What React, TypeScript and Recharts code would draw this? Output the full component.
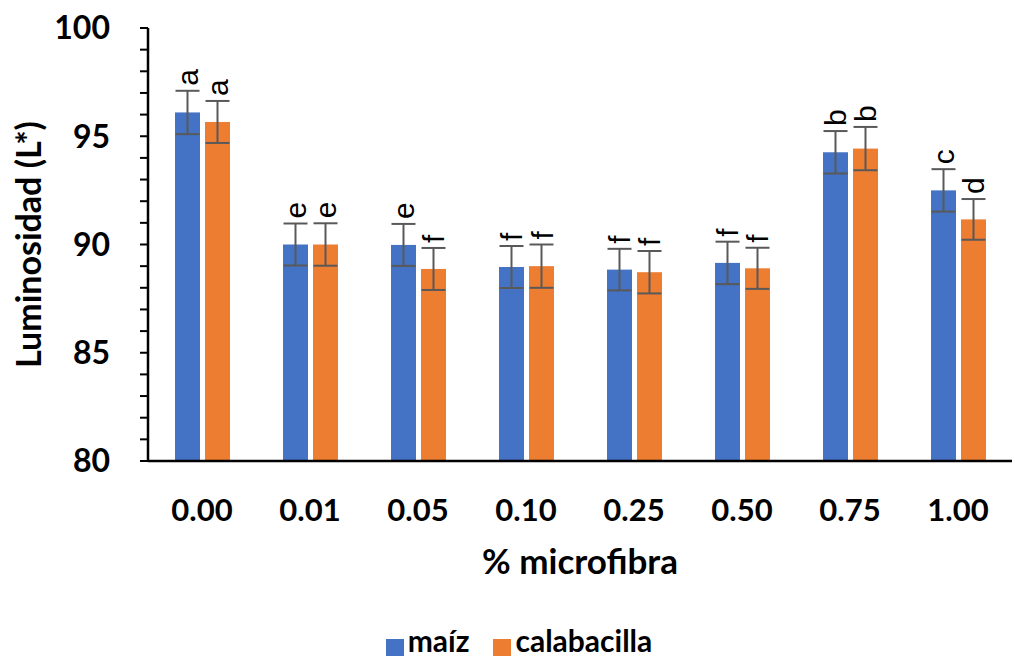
import {
  Bar,
  BarChart,
  ErrorBar,
  Legend,
  XAxis,
  YAxis,
} from "recharts";

const categories = ["0.00", "0.01", "0.05", "0.10", "0.25", "0.50", "0.75", "1.00"];
const maiz = [96.1, 90.0, 89.98, 88.96, 88.84, 89.15, 94.26, 92.5];
const calabacilla = [95.66, 90.0, 88.87, 89.0, 88.72, 88.9, 94.43, 91.16];
const maizErr = [1.0, 0.97, 0.97, 0.97, 0.96, 0.98, 0.98, 0.98];
const calabacillaErr = [0.97, 0.98, 0.97, 1.0, 0.98, 0.95, 1.0, 0.94];
const maizLetters = ["a", "e", "e", "f", "f", "f", "b", "c"];
const calabacillaLetters = ["a", "e", "f", "f", "f", "f", "b", "d"];
const yTicks = [80, 81, 82, 83, 84, 85, 86, 87, 88, 89, 90, 91, 92, 93, 94, 95, 96, 97, 98, 99, 100];
const edgeTicks = [1, 2, 3, 4, 5, 6, 7];
const seriesOrder = ["maiz", "calabacilla"];

const data = categories.map((c, i) => ({
  name: c,
  maiz: maiz[i],
  calabacilla: calabacilla[i],
  maizErr: maizErr[i],
  calabacillaErr: calabacillaErr[i],
}));

const FONT = "Lato, 'Open Sans', sans-serif";
const BLUE = "#4472C4";
const ORANGE = "#ED7D31";
const Y_MIN = 80;

// bar rect plus its letter above the error bar, written along an upward path
const barWithLetter = (
  key: string,
  fill: string,
  letters: string[],
  errs: number[],
  vals: number[]
) => (props: any) => {
  const { x, y, width, height, index } = props;
  const perUnit = height / (vals[index] - Y_MIN);
  const top = y - errs[index] * perUnit - 5;
  const cx = x + width / 2;
  const pid = `letter-path-${key}-${index}`;
  return (
    <g>
      <rect x={x} y={y} width={width} height={height} fill={fill} />
      <defs>
        <path id={pid} d={`M${cx},${top} L${cx},${top - 80}`} fill="none" />
      </defs>
      <text
        fontFamily="'Liberation Sans', Arial, sans-serif"
        fontSize={30}
        fill="#000"
        dominantBaseline="central"
      >
        <textPath href={`#${pid}`}>{letters[index]}</textPath>
      </text>
    </g>
  );
};

export default function App() {
  return (
    <div style={{ position: "absolute", left: 0, top: 0, background: "#fff" }}>
      <BarChart
        width={1015}
        height={656}
        data={data}
        margin={{ top: 28, right: 3, left: 0, bottom: 0 }}
        barSize={25}
        barGap={5}
      >
        <XAxis
          dataKey="name"
          tickLine={false}
          tickSize={0}
          tickMargin={38}
          height={155}
          axisLine={{ stroke: "#000", strokeWidth: 2.5 }}
          tick={{ fill: "#000", fontFamily: FONT, fontWeight: 700, fontSize: 31 }}
          label={{
            value: "% microfibra",
            position: "insideBottom",
            offset: 42,
            fill: "#000",
            fontFamily: FONT,
            fontWeight: 700,
            fontSize: 35,
          }}
        />
        <XAxis
          xAxisId="edges"
          type="number"
          domain={[0, 8]}
          allowDataOverflow
          ticks={edgeTicks}
          tick={false}
          mirror
          height={0}
          tickSize={9}
          axisLine={false}
          tickLine={{ stroke: "#000", strokeWidth: 2.5 }}
        />
        <YAxis
          width={148}
          domain={[80, 100]}
          ticks={yTicks}
          interval={0}
          tickSize={8}
          tickMargin={30}
          tickFormatter={(v: number) => (v % 5 === 0 ? String(v) : "")}
          axisLine={{ stroke: "#000", strokeWidth: 2.5 }}
          tickLine={{ stroke: "#000", strokeWidth: 2 }}
          tick={{ fill: "#000", fontFamily: FONT, fontWeight: 700, fontSize: 32 }}
          label={{
            value: "Luminosidad (L*)",
            angle: -90,
            position: "insideLeft",
            offset: 29,
            fill: "#000",
            fontFamily: FONT,
            fontWeight: 700,
            fontSize: 34,
            style: { textAnchor: "middle" },
          }}
        />
        <Legend
          verticalAlign="bottom"
          height={40}
          iconType="square"
          iconSize={18}
          itemSorter={(item: any) => seriesOrder.indexOf(item.dataKey)}
          wrapperStyle={{ bottom: -6, paddingLeft: 18 }}
          formatter={(value: string) => (
            <span
              style={{
                color: "#000",
                fontFamily: FONT,
                fontWeight: 700,
                fontSize: 30,
                paddingRight: value === "maíz" ? 14 : 0,
              }}
            >
              {value}
            </span>
          )}
        />
        <Bar
          dataKey="maiz"
          name="maíz"
          fill={BLUE}
          isAnimationActive={false}
          shape={barWithLetter("m", BLUE, maizLetters, maizErr, maiz)}
        >
          <ErrorBar dataKey="maizErr" width={12} stroke="#595959" strokeWidth={2} />
        </Bar>
        <Bar
          dataKey="calabacilla"
          name="calabacilla"
          fill={ORANGE}
          isAnimationActive={false}
          shape={barWithLetter("c", ORANGE, calabacillaLetters, calabacillaErr, calabacilla)}
        >
          <ErrorBar dataKey="calabacillaErr" width={12} stroke="#595959" strokeWidth={2} />
        </Bar>
      </BarChart>
    </div>
  );
}
